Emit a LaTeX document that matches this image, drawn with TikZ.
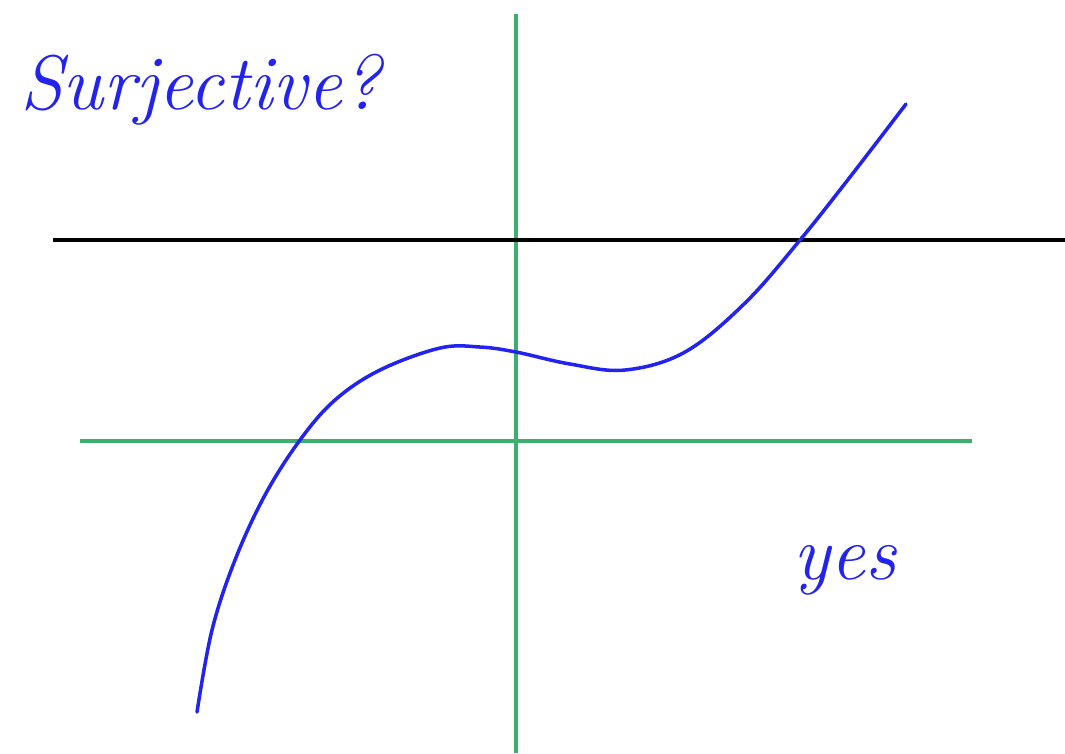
\documentclass[tikz,border=0pt]{standalone}
\definecolor{axisgreen}{RGB}{60, 175, 110}
\definecolor{inkblue}{RGB}{35, 35, 240}
\usepackage{tikz}
\usetikzlibrary{positioning}

\begin{document}
\begin{tikzpicture}[x=0.01cm,y=-0.01cm,
    axis/.style={axisgreen,line width=1.4pt},
    level/.style={black,line width=1.4pt},
    curve/.style={inkblue,line width=1pt,line cap=round},
    hand/.style={inkblue,font=\itshape}]
    \useasboundingbox (0,0) rectangle (1065,753);
    % axes
    \coordinate (ytop) at (516,14);
    \coordinate (ybot) at (516,753);
    \coordinate (xl) at (80,441);
    \coordinate (xr) at (972,441);
    \draw[axis] (ytop) -- (ybot);
    \draw[axis] (xl) -- (xr);
    % horizontal test line
    \coordinate (hl) at (53,240);
    \coordinate (hr) at (1065,240);
    \draw[level] (hl) -- (hr);
    % the cubic
    \draw[curve] plot[smooth,tension=0.6] coordinates {(197,712) (212,630) (235,560) (265,495) (300,440) (335,400) (380,370) (440,348) (480,347) (516,352) (570,364) (625,370) (685,352) (745,303) (800,240) (850,177) (906,104)};
    % labels
    \node[hand,font=\itshape\fontsize{22}{26}\selectfont,anchor=west] (surj) at (8,90) {Surjective?};
    \node[hand,font=\itshape\fontsize{22}{26}\selectfont] (yes) at (845,570) {yes};
\end{tikzpicture}
\end{document}
